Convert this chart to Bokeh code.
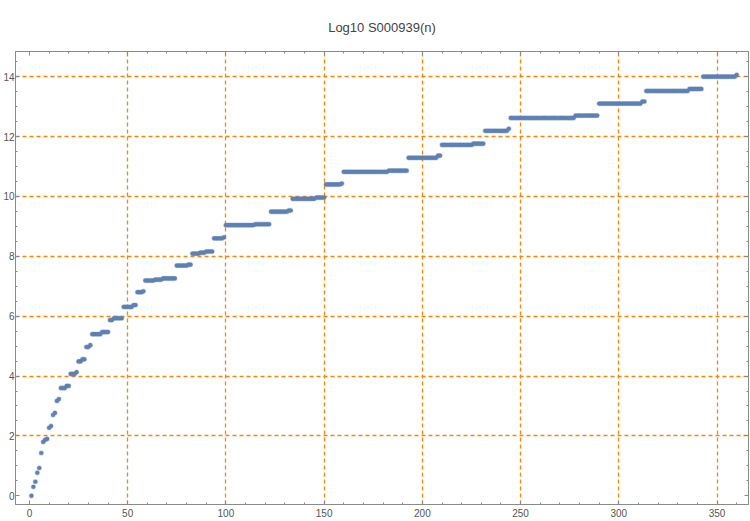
import numpy as np
from bokeh.plotting import figure
from bokeh.models import (LinearAxis, SingleIntervalTicker, FixedTicker, Range1d,
                          CustomJSTickFormatter, ColumnDataSource)
from bokeh.embed import file_html
from bokeh.resources import INLINE

# Plateau levels of log10 S000939(n), with how many
# consecutive n share each level (n runs from 1 to 360).
levels = [0.00, 0.30, 0.47, 0.77, 0.93, 1.43, 1.80, 1.87, 1.90, 2.27,
          2.33, 2.70, 2.77, 3.17, 3.23,
          3.60, 3.67, 4.07, 4.13, 4.49, 4.56, 4.97, 5.03, 5.40, 5.47,
          5.87, 5.93, 6.31, 6.37, 6.80, 6.83, 7.19, 7.22, 7.26, 7.69,
          7.72, 8.09, 8.12, 8.16, 8.60, 8.63, 9.04, 9.07, 9.49, 9.53,
          9.92, 9.96, 10.40, 10.43, 10.82, 10.86, 11.29, 11.36, 11.72, 11.76,
          12.19, 12.26, 12.62, 12.70, 13.10, 13.17, 13.52, 13.59, 14.00, 14.06]
run_lengths = [1, 1, 1, 1, 1, 1, 1, 1, 1, 1,
               1, 1, 1, 1, 1,
               3, 2, 3, 1, 2, 2, 2, 1, 5, 4,
               2, 5, 5, 2, 3, 1, 5, 4, 7, 6,
               2, 4, 3, 4, 5, 1, 15, 8, 9, 2,
               12, 5, 8, 1, 23, 10, 15, 2, 16, 6,
               12, 1, 33, 12, 22, 2, 22, 7, 17, 1]

x_grid = [50, 100, 150, 200, 250, 300, 350]
y_grid = [2, 4, 6, 8, 10, 12, 14]
title_text = "Log10 S000939(n)"

yvals = np.repeat(np.array(levels), run_lengths)
nvals = np.arange(1, len(yvals) + 1)
src = ColumnDataSource(data=dict(n=nvals, v=yvals))

FONT = "Liberation Sans"
FRAME = "#8a8a8a"
LABEL = "#555555"

p = figure(width=750, height=521, output_backend="svg", toolbar_location=None,
           x_range=Range1d(-7.1, 366), y_range=Range1d(-0.29, 14.84),
           min_border_left=0, min_border_right=2, min_border_top=50,
           min_border_bottom=17, x_axis_location=None, y_axis_location=None)
p.title.text = title_text
p.title.align = "center"
p.title.text_font = FONT
p.title.text_font_size = "13px"
p.title.text_font_style = "normal"
p.title.text_color = "#444444"
p.title.standoff = 34

p.outline_line_color = FRAME
p.background_fill_color = "white"
p.border_fill_color = "white"

xt = SingleIntervalTicker(interval=50, num_minor_ticks=5)
yt = SingleIntervalTicker(interval=2, num_minor_ticks=4)

blank = CustomJSTickFormatter(code="return ''")

for loc, ticker, show in [("below", xt, True), ("above", xt, False),
                          ("left", yt, True), ("right", yt, False)]:
    ax = LinearAxis(ticker=ticker)
    ax.axis_line_color = FRAME
    ax.major_tick_line_color = FRAME
    ax.minor_tick_line_color = FRAME
    ax.major_tick_in = 4
    ax.major_tick_out = 0
    ax.minor_tick_in = 2
    ax.minor_tick_out = 0
    ax.major_label_text_font = FONT
    ax.major_label_text_font_size = "10px"
    ax.major_label_text_color = LABEL
    ax.major_label_standoff = 4 if loc == "below" else 1
    if not show:
        ax.formatter = blank
        ax.major_label_standoff = 0
    p.add_layout(ax, loc)

p.xgrid.ticker = FixedTicker(ticks=x_grid)
p.ygrid.ticker = FixedTicker(ticks=y_grid)
for g in (p.xgrid, p.ygrid):
    g.grid_line_color = "#FF8400"
    g.grid_line_dash = "4 3"
    g.grid_line_width = 1.3

p.scatter("n", "v", source=src, size=4.2, fill_color="#5E81B5",
          line_color="#5E81B5", line_alpha=0.35, line_width=1.2)

open("out.html", "w").write(file_html(p, INLINE))
